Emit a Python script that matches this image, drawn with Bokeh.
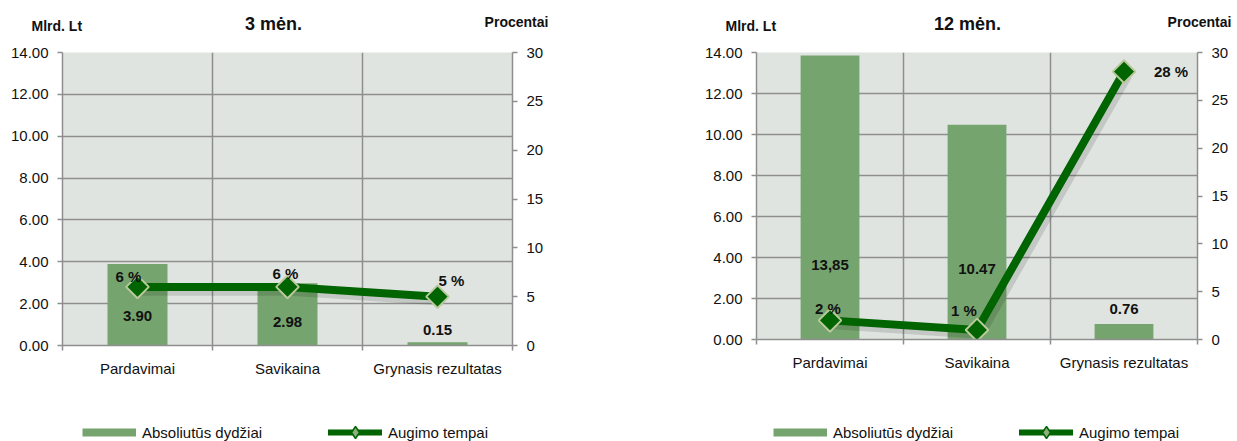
import math
from bokeh.plotting import figure
from bokeh.models import (Range1d, LinearAxis, FixedTicker, Label, Legend, LegendItem,
                          ColumnDataSource, NumeralTickFormatter)
from bokeh.layouts import row, column
from bokeh.embed import file_html
from bokeh.resources import INLINE
from bokeh.core.properties import value
from bokeh.transform import dodge

# ---------------- data ----------------
categories = ["Pardavimai", "Savikaina", "Grynasis rezultatas"]

abs_3m = [3.90, 2.98, 0.15]          # Mlrd. Lt
growth_3m = [6, 6, 5]                # %
abs_12m = [13.85, 10.47, 0.76]       # Mlrd. Lt
growth_12m = [2, 1, 28]              # %

abs_labels_3m = ["3.90", "2.98", "0.15"]
abs_labels_12m = ["13,85", "10.47", "0.76"]
growth_labels_3m = ["6 %", "6 %", "5 %"]
growth_labels_12m = ["2 %", "1 %", "28 %"]

titles = ["3 mėn.", "12 mėn."]
left_ticks = [0, 2, 4, 6, 8, 10, 12, 14]
right_ticks = [0, 5, 10, 15, 20, 25, 30]
legend_names = ["Absoliutūs dydžiai", "Augimo tempai"]
left_axis_name = "Mlrd. Lt"
right_axis_name = "Procentai"

# ---------------- styles / placement ----------------
FONT = "Liberation Sans"
BAR = "#76A46E"
LINE = "#006400"
MARK_EDGE = "#B9C99C"
BG = "#E0E4E0"
GRID = "#8E8E8E"
TXT = "#111111"

PAGE_W = 1237
HEAD_H = 42

bar_label_y_3m = [1.39, 1.10, 0.72]
bar_label_y_12m = [3.61, 3.46, 1.51]
g_off_3m = ([-9, -2, 14], [-10, -13, -16])
g_off_12m = ([-2, -13, 30], [-12, -19, 0])
g_align_3m = ["center", "center", "center"]
g_align_12m = ["center", "center", "left"]


def make_chart(abs_vals, growth_vals, abs_lbls, bar_lbl_y, growth_lbls, g_off, g_align,
               width, height, b_left, b_right, b_top, b_bottom):
    n = len(categories)
    xs = [i + 0.5 for i in range(n)]
    p = figure(width=width, height=height, x_range=Range1d(0, n),
               y_range=Range1d(0, left_ticks[-1]),
               output_backend="svg", toolbar_location=None,
               min_border_left=b_left, min_border_right=b_right,
               min_border_top=b_top, min_border_bottom=b_bottom)
    p.background_fill_color = BG
    p.border_fill_color = "white"
    p.outline_line_color = None
    p.extra_y_ranges = {"pct": Range1d(0, right_ticks[-1])}

    p.ygrid.ticker = FixedTicker(ticks=left_ticks)
    p.ygrid.grid_line_color = GRID
    p.ygrid.grid_line_width = 1.5
    p.xgrid.ticker = FixedTicker(ticks=list(range(1, n)))
    p.xgrid.grid_line_color = GRID
    p.xgrid.grid_line_width = 1.5

    ya = p.yaxis[0]
    ya.ticker = FixedTicker(ticks=left_ticks)
    ya.formatter = NumeralTickFormatter(format="0.00")
    ra = LinearAxis(y_range_name="pct", ticker=FixedTicker(ticks=right_ticks))
    p.add_layout(ra, "right")
    for ax in (ya, ra):
        ax.major_tick_out = 5
        ax.major_tick_in = 0
        ax.minor_tick_line_color = None
        ax.axis_line_color = GRID
        ax.axis_line_width = 1.5
        ax.major_tick_line_color = GRID
        ax.major_tick_line_width = 1.5
        ax.major_label_text_font = FONT
        ax.major_label_text_font_size = "15px"
        ax.major_label_text_color = TXT
        ax.major_label_standoff = 9

    xa = p.xaxis[0]
    xa.ticker = FixedTicker(ticks=xs, minor_ticks=list(range(n + 1)))
    xa.major_label_overrides = {x: c for x, c in zip(xs, categories)}
    xa.major_tick_line_color = None
    xa.major_tick_out = 0
    xa.major_tick_in = 0
    xa.minor_tick_out = 5
    xa.minor_tick_in = 0
    xa.minor_tick_line_color = GRID
    xa.minor_tick_line_width = 1.5
    xa.axis_line_color = GRID
    xa.axis_line_width = 1.5
    xa.major_label_text_font = FONT
    xa.major_label_text_font_size = "15px"
    xa.major_label_text_color = TXT
    xa.major_label_standoff = 9

    src = ColumnDataSource(dict(x=xs, top=abs_vals, g=growth_vals, lbl=abs_lbls,
                                ly=bar_lbl_y, gl=growth_lbls,
                                gx=g_off[0], gy=g_off[1], ga=g_align))

    p.vbar(x="x", top="top", width=0.4, source=src, fill_color=BAR, line_color=None)

    p.text(x="x", y="ly", text="lbl", source=src, text_align="center", text_baseline="middle",
           text_font=value(FONT), text_font_style="bold", text_font_size="15px", text_color=TXT)

    p.line(x=dodge("x", 0.02), y=dodge("g", -0.35), source=src, y_range_name="pct",
           line_color="black", line_alpha=0.12, line_width=11)
    p.line(x="x", y="g", source=src, y_range_name="pct", line_color=LINE, line_width=8)
    p.scatter(x="x", y="g", source=src, y_range_name="pct", marker="square",
              angle=math.pi / 4, size=16, fill_color=LINE, line_color=MARK_EDGE, line_width=2)

    p.text(x="x", y="g", text="gl", source=src, y_range_name="pct", x_offset="gx", y_offset="gy",
           text_align="ga", text_baseline="middle", text_font=value(FONT), text_font_style="bold",
           text_font_size="15px", text_color=TXT)
    return p


def strip_fig(height):
    f = figure(width=PAGE_W, height=height, x_range=Range1d(0, PAGE_W), y_range=Range1d(0, height),
               output_backend="svg", toolbar_location=None, x_axis_location=None,
               y_axis_location=None, min_border=0)
    f.xgrid.visible = False
    f.ygrid.visible = False
    f.outline_line_color = None
    f.background_fill_color = "white"
    f.border_fill_color = "white"
    return f


def hlabel(f, x, y, text, align, size):
    f.add_layout(Label(x=x, y=y, x_units="screen", y_units="screen", text=text,
                       text_align=align, text_baseline="middle", text_font=FONT,
                       text_font_style="bold", text_font_size=size, text_color=TXT))


# ---- header strip (page y 0..42) ----
head = strip_fig(HEAD_H)
hlabel(head, 273, HEAD_H - 23, titles[0], "center", "18px")
hlabel(head, 31, HEAD_H - 25, left_axis_name, "left", "14px")
hlabel(head, 516, HEAD_H - 21, right_axis_name, "center", "14px")
hlabel(head, 967, HEAD_H - 23, titles[1], "center", "18px")
hlabel(head, 725, HEAD_H - 25, left_axis_name, "left", "14px")
hlabel(head, 1199, HEAD_H - 21, right_axis_name, "center", "14px")

# ---- charts (left frame x 62..512 y 52..345, right frame x 756..1197 y 52..339) ----
TOP_B = 52 - HEAD_H
BOT_B = 36
p1 = make_chart(abs_3m, growth_3m, abs_labels_3m, bar_label_y_3m, growth_labels_3m,
                g_off_3m, g_align_3m, width=690, height=TOP_B + 293 + BOT_B,
                b_left=62, b_right=178, b_top=TOP_B, b_bottom=BOT_B)
p2 = make_chart(abs_12m, growth_12m, abs_labels_12m, bar_label_y_12m, growth_labels_12m,
                g_off_12m, g_align_12m, width=547, height=TOP_B + 287 + BOT_B,
                b_left=66, b_right=40, b_top=TOP_B, b_bottom=BOT_B)

# ---- legend strip (swatch renderers hold a single NaN point: nothing is drawn in the plot) ----
LEG_H = 441 - HEAD_H - (TOP_B + 293 + BOT_B)
leg_fig = strip_fig(LEG_H)
nan = float("nan")
bar_leg = leg_fig.line(x=[nan], y=[nan], line_color=BAR, line_width=8)
ln_leg = leg_fig.line(x=[nan], y=[nan], line_color=LINE, line_width=6, line_cap="round")
mk_leg = leg_fig.scatter(x=[nan], y=[nan], marker="diamond", fill_color="#8DB07F",
                         line_color=LINE, line_width=1.5)
GH = 30
item_center = LEG_H - (432 - (441 - LEG_H))   # page y 432 measured from strip bottom
for lx in (82, 773):
    leg = Legend(items=[LegendItem(label=legend_names[0], renderers=[bar_leg]),
                        LegendItem(label=legend_names[1], renderers=[ln_leg, mk_leg])],
                 orientation="horizontal", location=(lx, item_center - GH // 2),
                 glyph_width=54, glyph_height=GH, label_standoff=6, label_width=186, spacing=0,
                 padding=0, margin=0, background_fill_alpha=0, border_line_color=None,
                 label_text_font=FONT, label_text_font_size="15px", label_text_color=TXT,
                 label_height=GH)
    leg_fig.add_layout(leg, "center")

layout = column(head, row(p1, p2), leg_fig)
open("out.html", "w").write(file_html(layout, INLINE))
